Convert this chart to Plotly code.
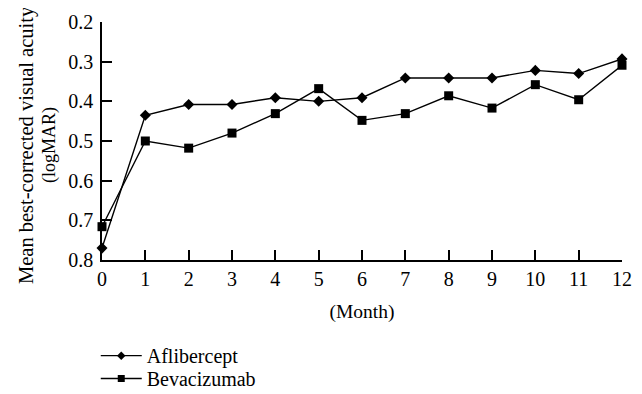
import plotly.graph_objects as go

months = list(range(0, 13))
month_labels = [str(m) for m in months]
aflibercept = [0.77, 0.435, 0.408, 0.408, 0.391, 0.40, 0.391, 0.341, 0.341, 0.341, 0.322, 0.330, 0.293]
bevacizumab = [0.716, 0.50, 0.518, 0.48, 0.431, 0.368, 0.448, 0.431, 0.386, 0.417, 0.358, 0.396, 0.309]
y_ticks = [0.2, 0.3, 0.4, 0.5, 0.6, 0.7, 0.8]
y_tick_labels = ["0.2", "0.3", "0.4", "0.5", "0.6", "0.7", "0.8"]

FONT = "Liberation Serif"

fig = go.Figure()
fig.add_trace(go.Scatter(
    x=months, y=aflibercept, name="Aflibercept", mode="lines+markers",
    line=dict(color="black", width=1.4),
    marker=dict(symbol="diamond", size=8.5, color="black"),
    cliponaxis=False, showlegend=False,
))
fig.add_trace(go.Scatter(
    x=months, y=bevacizumab, name="Bevacizumab", mode="lines+markers",
    line=dict(color="black", width=1.4),
    marker=dict(symbol="square", size=9, color="black"),
    cliponaxis=False, showlegend=False,
))
fig.add_trace(go.Scatter(
    x=[None], y=[None], name="Aflibercept", mode="lines+markers",
    line=dict(color="black", width=1.4),
    marker=dict(symbol="diamond", size=6.5, color="black"),
    legend="legend",
))
fig.add_trace(go.Scatter(
    x=[None], y=[None], name="Bevacizumab", mode="lines+markers",
    line=dict(color="black", width=1.4),
    marker=dict(symbol="square", size=7, color="black"),
    legend="legend2",
))

axis_common = dict(
    showline=True, linecolor="#000000", linewidth=1.5, mirror=False,
    ticks="inside", ticklen=10, tickwidth=1.5, tickcolor="#000000",
    showgrid=False, zeroline=False, automargin=False, layer="above traces",
)
legend_common = dict(
    xanchor="left", yanchor="top", bgcolor="rgba(0,0,0,0)",
    font=dict(family=FONT, size=20, color="black"), itemwidth=41,
)

fig.update_layout(
    template="simple_white",
    width=634, height=386,
    margin=dict(l=94, r=20, t=14, b=134, autoexpand=False),
    paper_bgcolor="white", plot_bgcolor="white",
    font=dict(family=FONT, size=20, color="black"),
    showlegend=True,
    legend=dict(x=-0.012, y=-0.32, **legend_common),
    legend2=dict(x=-0.012, y=-0.416, **legend_common),
    xaxis=dict(
        range=[0, 12], tickvals=months, ticktext=month_labels,
        ticklabelstandoff=0,
        tickfont=dict(family=FONT, size=20),
        title=dict(text="(Month)", standoff=16, font=dict(family=FONT, size=19.5)),
        **axis_common,
    ),
    yaxis=dict(
        range=[0.8, 0.2], tickvals=y_ticks, ticktext=y_tick_labels,
        ticklabelstandoff=3,
        tickfont=dict(family=FONT, size=20),
        **axis_common,
    ),
    annotations=[
        dict(text="Mean best-corrected visual acuity", textangle=-90,
             xref="paper", yref="paper", x=(26 - 102) / 520, y=0.483,
             xanchor="center", yanchor="middle",
             showarrow=False, font=dict(family=FONT, size=20.5)),
        dict(text="(logMAR)", textangle=-90,
             xref="paper", yref="paper", x=(49 - 102) / 520, y=0.483,
             xanchor="center", yanchor="middle",
             showarrow=False, font=dict(family=FONT, size=18)),
    ],
)

fig.write_html("out.html")
